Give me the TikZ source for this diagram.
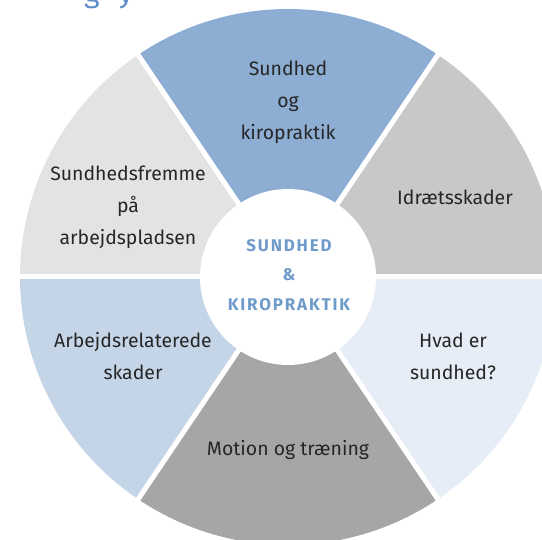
\documentclass[tikz,border=0pt]{standalone}
\usepackage{fontspec}
\setmainfont{Fira Sans}
\newfontfamily\hubfont[LetterSpace=11]{Fira Sans}
\definecolor{topblue}{HTML}{8DADD3}
\definecolor{urgray}{HTML}{C8C8C8}
\definecolor{lrblue}{HTML}{E6EDF6}
\definecolor{botgray}{HTML}{A6A6A6}
\definecolor{llblue}{HTML}{C5D5E8}
\definecolor{ulgray}{HTML}{E3E3E3}
\definecolor{hubblue}{HTML}{6F9BCA}
\definecolor{txtgray}{HTML}{262626}
\definecolor{headblue}{HTML}{5E8FCB}
\tikzset{
  label/.style={align=center, text=txtgray, font=\fontsize{19.5}{32}\selectfont, inner sep=0pt},
  hubtext/.style={align=center, text=hubblue, font=\hubfont\bfseries\fontsize{17}{29.5}\selectfont, inner sep=0pt},
  headtext/.style={text=headblue, font=\fontsize{30}{30}\selectfont, anchor=base, inner sep=0pt},
  gapline/.style={draw=white, line width=5bp},
}
\begin{document}
\begin{tikzpicture}[x=1bp,y=1bp]
\useasboundingbox (0,0) rectangle (542,540);
\clip (0,0) rectangle (542,540);
\coordinate (c) at (288,263);
\def\R{268}
% sectors
\fill[topblue] (c) -- ++(56:\R) arc[start angle=56, end angle=124, radius=\R] -- cycle;
\fill[ulgray]  (c) -- ++(124:\R) arc[start angle=124, end angle=180, radius=\R] -- cycle;
\fill[llblue]  (c) -- ++(180:\R) arc[start angle=180, end angle=236, radius=\R] -- cycle;
\fill[botgray] (c) -- ++(236:\R) arc[start angle=236, end angle=304, radius=\R] -- cycle;
\fill[lrblue]  (c) -- ++(304:\R) arc[start angle=304, end angle=360, radius=\R] -- cycle;
\fill[urgray]  (c) -- ++(0:\R) arc[start angle=0, end angle=56, radius=\R] -- cycle;
% gaps
\foreach \a in {0,56,124,180,236,304}
  \draw[gapline] (c) -- ++(\a:\R+10);
% hub
\fill[white] (c) circle[radius=88];
\node[hubtext] (hub) at (289,265) {SUNDHED\\\&\\KIROPRAKTIK};
% labels
\node[label] (top) at (288,438) {Sundhed\\og\\kiropraktik};
\node[label] (ur) at (455,343) {Idrætsskader};
\node[label] (ul) at (128,333) {Sundhedsfremme\\på\\arbejdspladsen};
\node[label] (ll) at (133,184) {Arbejdsrelaterede\\skader};
\node[label] (lr) at (453,184) {Hvad er\\sundhed?};
\node[label] (bot) at (288,90) {Motion og træning};
% cut-off heading at the top edge
\node[headtext] (hg) at (92,537) {g};
\node[headtext] (hy) at (126,537) {y};
\end{tikzpicture}
\end{document}
